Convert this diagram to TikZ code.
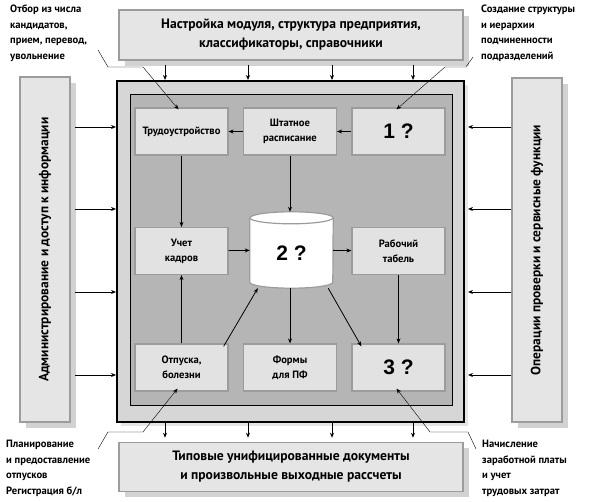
\documentclass[tikz,border=0pt]{standalone}
\usepackage{fontspec}
\setmainfont{PT Sans}
\newfontfamily\numfont{Liberation Sans}
\usetikzlibrary{arrows.meta, shadows}

\definecolor{boxgray}{HTML}{E5E5E5}
\definecolor{edgegray}{HTML}{9C9C9C}
\definecolor{shadowgray}{HTML}{D2D2D2}
\definecolor{framegray}{HTML}{D6D6D6}
\definecolor{innergray}{HTML}{B5B5B5}
\definecolor{unitgray}{HTML}{E2E2E2}

\begin{document}
\begin{tikzpicture}[x=1pt, y=-1pt, >={Stealth[length=5pt, width=4pt]},
    every node/.style={align=center, font=\bfseries\fontsize{10.6}{15}\selectfont},
    outerbox/.style={draw=edgegray, line width=1.5pt, fill=boxgray,
      drop shadow={shadow xshift=6pt, shadow yshift=-6pt, fill=shadowgray, opacity=1}},
    unit/.style={draw=edgegray, line width=1.2pt, fill=unitgray, minimum width=93pt, minimum height=47pt},
    note/.style={align=left, anchor=north west, inner sep=0pt, font=\bfseries\fontsize{10.6}{15.5}\selectfont},
    big/.style={font=\numfont\bfseries\fontsize{21}{21}\selectfont}]
  \useasboundingbox (0,0) rectangle (592,502);

  % outer boxes
  \node[outerbox, minimum width=344pt, minimum height=50pt, font=\bfseries\fontsize{13.6}{19}\selectfont] (top) at (291,35)
    {Настройка модуля, структура предприятия,\\классификаторы, справочники};
  \node[outerbox, minimum width=344pt, minimum height=49pt, font=\bfseries\fontsize{13.6}{19}\selectfont] (bot) at (291,467)
    {Типовые унифицированные документы\\и произвольные выходные рассчеты};
  \node[outerbox, minimum width=50pt, minimum height=345pt] (adm) at (45,249.5) {};
  \node[rotate=90, font=\bfseries\fontsize{13.4}{15}\selectfont] (admtext) at (adm) {Администрирование и доступ к информации};
  \node[outerbox, minimum width=50pt, minimum height=344pt] (ops) at (537,250) {};
  \node[rotate=90, font=\bfseries\fontsize{13.4}{15}\selectfont] (opstext) at (ops) {Операции проверки и сервисные функции};

  % frame
  \node[draw, line width=2pt, fill=framegray, minimum width=347pt, minimum height=341pt,
    drop shadow={shadow xshift=4pt, shadow yshift=-4pt, fill=boxgray, opacity=1}] (frame) at (290.5,251.5) {};
  \node[draw, line width=1pt, fill=innergray, minimum width=322pt, minimum height=311pt] (inner) at (291,250.5) {};

  % units
  \node[unit] (hire) at (181.5,131.5) {Трудоустройство};
  \node[unit] (staff) at (290,131.5) {Штатное\\расписание};
  \node[unit, big] (q1) at (398.5,131.5) {1 ?};
  \node[unit] (kadr) at (181.5,251) {Учет\\кадров};
  \node[unit] (tabel) at (398.5,251) {Рабочий\\табель};
  \node[unit] (vac) at (181.5,367.5) {Отпуска,\\болезни};
  \node[unit] (forms) at (290,367.5) {Формы\\для ПФ};
  \node[unit, big] (q3) at (398.5,367.5) {3 ?};

  % database
  \node[minimum width=83pt, minimum height=76pt, inner sep=0pt] (db) at (291.5,250) {};
  \draw[draw=edgegray, line width=1.2pt, fill=white] ([yshift=-6pt]db.north west) -- ([yshift=6pt]db.south west)
    arc[start angle=180, end angle=360, x radius=41.5pt, y radius=6pt] -- ([yshift=-6pt]db.north east)
    arc[start angle=0, end angle=180, x radius=41.5pt, y radius=6pt];
  \draw[draw=edgegray, line width=1.2pt] ([yshift=-6pt]db.north west)
    arc[start angle=180, end angle=360, x radius=41.5pt, y radius=6pt];
  \node[big] (dbtext) at ([yshift=-3pt]db.center) {2 ?};

  % flows inside
  \draw[->, thick] (q1) -- (staff);
  \draw[->, thick] (staff) -- (hire);
  \draw[->, thick] (hire) -- (kadr);
  \draw[->, thick] (staff.south) -- (staff.south |- db.north);
  \draw[->, thick] (kadr) -- (db);
  \draw[->, thick] (db) -- (tabel);
  \draw[->, thick] (tabel) -- (q3);
  \draw[->, thick] (db.south -| forms.north) -- (forms.north);
  \draw[->, thick] ([xshift=-5pt]db.south east) -- ([xshift=10pt, yshift=-3pt]q3.north west);
  \draw[->, thick] (vac) -- (kadr);
  \draw[->, thick] ([xshift=-5pt, yshift=-3pt]vac.north east) -- ([xshift=8pt]db.south west);

  % flows round the frame
  \foreach \x in {165,248,332,413} {
    \draw[->, thick] ([yshift=-4pt]top.south -| \x,0) -- (frame.north -| \x,0);
    \draw[->, thick] (frame.south -| \x,0) -- ([yshift=4pt]bot.north -| \x,0);
  }
  \foreach \y in {127,209,292,375} {
    \draw[->, thick] ([xshift=4pt]adm.east |- 0,\y) -- (frame.west |- 0,\y);
    \draw[->, thick] (ops.west |- 0,\y) -- ([xshift=3pt]frame.east |- 0,\y);
  }

  % notes
  \node[note] (selnote) at (10,5) {Отбор из числа\\кандидатов,\\прием, перевод,\\увольнение};
  \node[note] (orgnote) at (481,5) {Создание структуры\\и иерархии\\подчиненности\\подразделений};
  \node[note] (vacnote) at (6,440) {Планирование\\и предоставление\\отпусков\\Регистрация б/л};
  \node[note] (paynote) at (482,440) {Начисление\\заработной платы\\и учет\\трудовых затрат};

  \coordinate (selend) at (98,50);
  \coordinate (orgend) at (473,57);
  \coordinate (vacend) at (98,449);
  \coordinate (payend) at (476,449);
  \draw[->] (selend) -- (108,67) -- (143,67) -- ([xshift=-3pt, yshift=-2pt]hire.north);
  \draw[->] (orgend) -- (466,67) -- (445,67) -- ([xshift=-2pt, yshift=-2pt]q1.north);
  \draw[->] (vacend) -- (108,432) -- (143,432) -- ([xshift=-4pt, yshift=3pt]vac.south);
  \draw[->] (payend) -- (468,432) -- (430,432) -- ([xshift=-2pt, yshift=3pt]q3.south);
\end{tikzpicture}
\end{document}
